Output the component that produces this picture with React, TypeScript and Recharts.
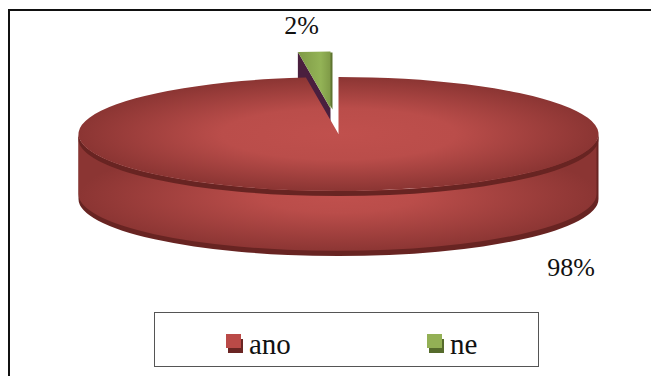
import { Legend, Pie, PieChart } from "recharts";

const categories = ["ano", "ne"];
const shares = [98, 2];

const sliceColors: Record<string, { top: string; dark: string; wall: string }> = {
  ano: { top: "url(#anoTop)", dark: "#682422", wall: "url(#anoSide)" },
  ne: { top: "url(#neTop)", dark: "#5F7530", wall: "#4A1F3E" },
};
const legendSwatches: Record<string, { front: string; back: string }> = {
  ano: { front: "#BA4A47", back: "#6A2523" },
  ne: { front: "#93B055", back: "#566B2C" },
};
const labelAnchors: Record<string, { x: number; y: number }> = {
  ano: { x: 571, y: 276 },
  ne: { x: 301.5, y: 34 },
};

// small slice first so the big one paints over its wall
const rows = categories.map((name, i) => ({ name, value: shares[i] })).reverse();

const WIDTH = 651;
const HEIGHT = 376;
const CX = 338.5;
const CY = 134;
const RADIUS = 260;
const SQUASH = 57 / 260;
const DEPTH = 60;
const EDGE = 5;
const EXPLODE = 0.43;
const SERIF = "'Liberation Serif', 'Times New Roman', serif";

const RAD = Math.PI / 180;

function point(cx: number, cy: number, r: number, angle: number) {
  return { x: cx + r * Math.cos(angle * RAD), y: cy - r * SQUASH * Math.sin(angle * RAD) };
}

function sectorPath(cx: number, cy: number, r: number, start: number, end: number) {
  const a = point(cx, cy, r, start);
  const b = point(cx, cy, r, end);
  const large = Math.abs(start - end) > 180 ? 1 : 0;
  return `M${cx},${cy} L${a.x},${a.y} A${r},${r * SQUASH} 0 ${large} 1 ${b.x},${b.y} Z`;
}

// front half of the rim, from the right end round to the left end
function rimPath(cx: number, cy: number, r: number, drop: number) {
  const ry = r * SQUASH;
  return `M${cx + r},${cy} L${cx + r},${cy + drop} A${r},${ry} 0 0 1 ${cx - r},${cy + drop} L${cx - r},${cy} A${r},${ry} 0 0 0 ${cx + r},${cy} Z`;
}

function Slice3D(props: any) {
  const { cx, cy, outerRadius: r, startAngle, endAngle, midAngle, name } = props;
  const colors = sliceColors[name];

  if (name === "ne") {
    const ox = cx + EXPLODE * r * Math.cos(midAngle * RAD) - 1;
    const oy = cy - EXPLODE * r * SQUASH * Math.sin(midAngle * RAD) - 1;
    const a = point(ox, oy, r, startAngle);
    return (
      <g>
        <path d={sectorPath(ox + 2, oy + 1, r, startAngle, endAngle)} fill={colors.dark} />
        <path
          d={`M${ox},${oy} L${a.x},${a.y} L${a.x},${a.y + DEPTH} L${ox},${oy + DEPTH} Z`}
          fill={colors.wall}
        />
        <path d={sectorPath(ox, oy, r, startAngle, endAngle)} fill={colors.top} />
      </g>
    );
  }

  return (
    <g>
      <path d={rimPath(cx, cy, r, DEPTH + EDGE)} fill={colors.dark} />
      <path d={rimPath(cx - 1, cy, r - 1, DEPTH)} fill={colors.wall} />
      <path d={rimPath(cx, cy, r, EDGE)} fill={colors.dark} />
      <path d={sectorPath(cx, cy, r, startAngle, endAngle)} fill={colors.top} />
    </g>
  );
}

function SliceLabel(props: any) {
  const { name, value } = props;
  const at = labelAnchors[name];
  return (
    <text x={at.x} y={at.y} textAnchor="middle" fontFamily={SERIF} fontSize={26} fill="#111">
      {`${value}%`}
    </text>
  );
}

function LegendBox() {
  return (
    <div
      style={{
        width: 383,
        height: 53,
        border: "1px solid #555",
        boxSizing: "content-box",
        background: "#fff",
        fontFamily: SERIF,
        fontSize: 29,
        color: "#111",
      }}
    >
      {categories.map((name, i) => (
        <div
          key={name}
          style={{ position: "absolute", left: i === 0 ? 72 : 273, top: 15, height: 34, lineHeight: "34px", paddingLeft: 23 }}
        >
          <span style={{ position: "absolute", left: 2, top: 12, width: 15, height: 14, background: legendSwatches[name].back }} />
          <span style={{ position: "absolute", left: 0, top: 7, width: 15, height: 14, background: legendSwatches[name].front }} />
          {name}
        </div>
      ))}
    </div>
  );
}

export default function App() {
  return (
    <div
      style={{
        position: "absolute",
        left: 0,
        top: 0,
        width: WIDTH,
        height: HEIGHT,
        overflow: "hidden",
        background: "#fff",
      }}
    >
      <div
        style={{
          position: "absolute",
          left: 8,
          top: 9,
          width: WIDTH,
          height: HEIGHT,
          borderLeft: "2px solid #111",
          borderTop: "2px solid #111",
        }}
      />
      <PieChart width={WIDTH} height={HEIGHT} margin={{ top: 0, right: 0, bottom: 0, left: 0 }}>
        <defs>
          <radialGradient
            id="anoTop"
            gradientUnits="userSpaceOnUse"
            cx={0}
            cy={0}
            r={1}
            gradientTransform={`translate(${CX} ${CY}) scale(${RADIUS} 57)`}
          >
            <stop offset="0" stopColor="#C0504D" />
            <stop offset="0.45" stopColor="#BA4D4A" />
            <stop offset="1" stopColor="#8B3533" />
          </radialGradient>
          <radialGradient
            id="anoSide"
            gradientUnits="userSpaceOnUse"
            cx={0}
            cy={0}
            r={1}
            gradientTransform={`translate(${CX} 196) scale(${RADIUS} 56)`}
          >
            <stop offset="0" stopColor="#C0504D" />
            <stop offset="0.3" stopColor="#BA4D4A" />
            <stop offset="1" stopColor="#8B3533" />
          </radialGradient>
          <linearGradient id="neTop" x1="0" y1="0" x2="1" y2="0">
            <stop offset="0" stopColor="#7F9A47" />
            <stop offset="0.7" stopColor="#93B356" />
            <stop offset="1" stopColor="#7F9A47" />
          </linearGradient>
        </defs>
        <Pie
          data={rows}
          dataKey="value"
          nameKey="name"
          cx={CX}
          cy={CY}
          innerRadius={0}
          outerRadius={RADIUS}
          startAngle={97.2}
          endAngle={-262.8}
          stroke="none"
          shape={Slice3D}
          label={SliceLabel}
          labelLine={false}
          isAnimationActive={false}
        />
        <Legend
          content={LegendBox}
          layout="horizontal"
          wrapperStyle={{ position: "absolute", left: 154, top: 312, width: 385, height: 55, bottom: "auto" }}
        />
      </PieChart>
    </div>
  );
}
